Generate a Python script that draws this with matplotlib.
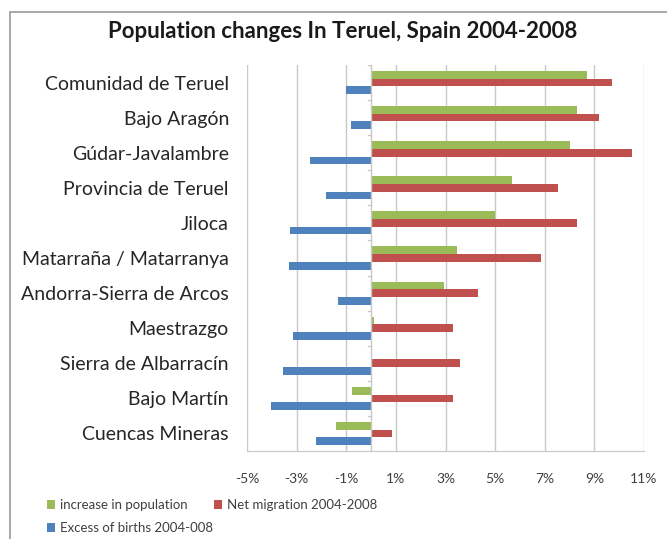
import numpy as np
import matplotlib
matplotlib.use("Agg")
import matplotlib.pyplot as plt
from matplotlib.patches import Rectangle
from matplotlib.ticker import FuncFormatter

# data (percent)
regions = ["Comunidad de Teruel", "Bajo Aragón", "Gúdar-Javalambre", "Provincia de Teruel",
           "Jiloca", "Matarraña / Matarranya", "Andorra-Sierra de Arcos", "Maestrazgo",
           "Sierra de Albarracín", "Bajo Martín", "Cuencas Mineras"]
increase = [8.7, 8.3, 8.0, 5.7, 5.0, 3.45, 2.95, 0.1, 0.05, -0.75, -1.4]
net_migration = [9.7, 9.2, 10.5, 7.55, 8.3, 6.85, 4.3, 3.3, 3.6, 3.3, 0.85]
excess_births = [-1.0, -0.8, -2.45, -1.8, -3.25, -3.3, -1.35, -3.15, -3.55, -4.05, -2.2]
xticks = [-5, -3, -1, 1, 3, 5, 7, 9, 11]

green = "#9bbb59"
red = "#c0504d"
blue = "#4f81bd"
txt = "#404040"

plt.rcParams['font.family'] = ['Lato', 'DejaVu Sans']

fig = plt.figure(figsize=(6.67, 5.39), dpi=100)
ax = fig.add_axes([247 / 667, 1 - 451 / 539, 397 / 667, 386 / 539])

y = np.arange(len(regions))[::-1]
h = 0.22
ax.barh(y + h, increase, height=h, color=green, label="increase in population")
ax.barh(y, net_migration, height=h, color=red, label="Net migration 2004-2008")
ax.barh(y - h, excess_births, height=h, color=blue, label="Excess of births 2004-008")

ax.set_xlim(-5, 11)
ax.set_ylim(-0.5, len(regions) - 0.5)
ax.set_xticks(xticks)
ax.xaxis.set_major_formatter(FuncFormatter(lambda v, p: f"{v:.0f}%"))
ax.grid(axis="x", color="#c8c8c8", linewidth=1)
ax.set_axisbelow(True)
ax.tick_params(axis="x", length=0, labelsize=10, colors=txt, pad=16)

# category labels
ax.set_yticks(y)
ax.set_yticklabels(regions)
ax.tick_params(axis="y", length=0, labelsize=14, colors="#262626", pad=13)

for s in ["top", "right", "left"]:
    ax.spines[s].set_visible(False)
ax.spines["bottom"].set_color("#c8c8c8")

# vertical axis at zero with small tick marks
ax.axvline(0, color="#c8c8c8", linewidth=1, zorder=1)
for b in np.arange(-0.5, len(regions), 1.0):
    ax.plot([-0.12, 0], [b, b], color="#c8c8c8", linewidth=1, zorder=1)

fig.text(343 / 667, 1 - 32 / 539, "Population changes In Teruel, Spain 2004-2008",
         ha="center", va="center", fontsize=16, fontweight="bold", color="#1a1a1a")

# legend like excel: two entries on first row, one on second
handles, labels = ax.get_legend_handles_labels()
leg1 = fig.legend(handles[:2], labels[:2], loc="center left",
                  bbox_to_anchor=(35 / 667, 1 - 505 / 539), ncol=2,
                  frameon=False, fontsize=9.5, handlelength=0.6, handleheight=0.6,
                  handletextpad=0.4, columnspacing=2.0)
leg2 = fig.legend(handles[2:], labels[2:], loc="center left",
                  bbox_to_anchor=(35 / 667, 1 - 528 / 539),
                  frameon=False, fontsize=9.5, handlelength=0.6, handleheight=0.6,
                  handletextpad=0.4)
for lg in (leg1, leg2):
    for t in lg.get_texts():
        t.set_color(txt)

# chart border
fig.patches.append(Rectangle((10 / 667, -0.01), 1.0, 1 - 12 / 539 + 0.01, transform=fig.transFigure,
                             fill=False, edgecolor="#9a9a9a", linewidth=1.2))

fig.savefig("out.png", dpi=100)
